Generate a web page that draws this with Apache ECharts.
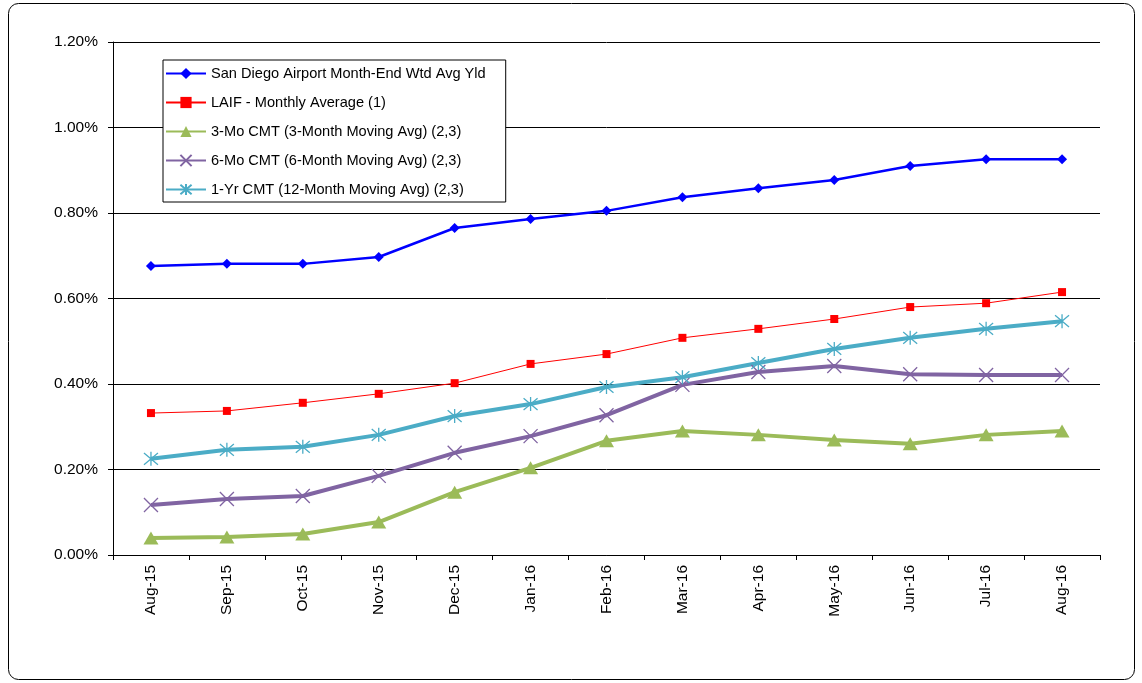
<!DOCTYPE html>
<html><head><meta charset="utf-8">
<script src="https://cdn.jsdelivr.net/npm/echarts@6/dist/echarts.min.js"></script>
<style>html,body{margin:0;padding:0;background:#fff}#c{width:1142px;height:683px}</style>
</head><body><div id="c"></div>
<script>
const categories = ['Aug-15','Sep-15','Oct-15','Nov-15','Dec-15','Jan-16','Feb-16','Mar-16','Apr-16','May-16','Jun-16','Jul-16','Aug-16'];
const sanDiego = [0.676,0.681,0.681,0.697,0.765,0.786,0.805,0.837,0.858,0.877,0.910,0.926,0.926];
const laif = [0.332,0.337,0.356,0.377,0.402,0.447,0.470,0.508,0.529,0.552,0.580,0.589,0.615];
const cmt3 = [0.040,0.042,0.049,0.077,0.147,0.204,0.267,0.290,0.281,0.269,0.260,0.281,0.290];
const cmt6 = [0.117,0.131,0.138,0.185,0.239,0.278,0.327,0.398,0.428,0.442,0.423,0.421,0.421];
const cmt12 = [0.225,0.246,0.253,0.281,0.325,0.353,0.393,0.416,0.449,0.482,0.508,0.529,0.547];
const seriesNames = ['San Diego Airport Month-End Wtd Avg Yld','LAIF - Monthly Average (1)','3-Mo CMT (3-Month Moving Avg) (2,3)','6-Mo CMT (6-Month Moving Avg) (2,3)','1-Yr CMT (12-Month Moving Avg) (2,3)'];

const FONT = 'Liberation Sans, Arial, sans-serif';
const xPath = 'path://M0,0L10,10M10,0L0,10';
const starPath = 'path://M0,0L10,10M10,0L0,10M5,-1L5,11';

const chart = echarts.init(document.getElementById('c'), null, {renderer:'canvas'});
chart.setOption({
  animation:false,
  textStyle:{fontFamily:FONT},
  graphic:[{type:'rect', shape:{x:8.5,y:3.5,width:1126,height:676,r:10}, style:{fill:'none',stroke:'#000',lineWidth:1}, z:-1}],
  grid:{left:113,right:42,top:42,bottom:128},
  legend:{
    orient:'vertical', left:163, top:60,
    backgroundColor:'#fff', borderColor:'#000', borderWidth:1,
    padding:[6,20,5,2], itemGap:14, itemWidth:40, itemHeight:14,
    textStyle:{fontFamily:FONT, fontSize:14.6, color:'#000', padding:[0,0,0,0]},
    data:seriesNames
  },
  xAxis:{
    type:'category', data:categories, boundaryGap:true,
    axisLine:{lineStyle:{color:'#000',width:1}},
    axisTick:{show:true,length:5,lineStyle:{color:'#000'}},
    axisLabel:{rotate:90, color:'#000', fontSize:15.5, fontFamily:FONT, margin:10}
  },
  yAxis:{
    type:'value', min:0, max:1.2, interval:0.2,
    axisLine:{show:true,lineStyle:{color:'#000',width:1}},
    axisTick:{show:true,length:5,lineStyle:{color:'#000'}},
    axisLabel:{color:'#000', fontSize:15.5, fontFamily:FONT, margin:15, formatter:v=>v.toFixed(2)+'%'},
    splitLine:{show:true,lineStyle:{color:'#000',width:1}}
  },
  series:[
    {name:seriesNames[0], type:'line', data:sanDiego, symbol:'diamond', symbolSize:10,
      lineStyle:{color:'#0000FF',width:2.5}, itemStyle:{color:'#0000FF'}, z:5},
    {name:seriesNames[1], type:'line', data:laif, symbol:'rect', symbolSize:8,
      lineStyle:{color:'#FF0000',width:1}, itemStyle:{color:'#FF0000'}, z:4},
    {name:seriesNames[2], type:'line', data:cmt3, symbol:'triangle', symbolSize:[15,13],
      lineStyle:{color:'#9BBB59',width:4}, itemStyle:{color:'#9BBB59'}, z:3},
    {name:seriesNames[3], type:'line', data:cmt6, symbol:xPath, symbolSize:14,
      lineStyle:{color:'#8064A2',width:4}, itemStyle:{color:'rgba(0,0,0,0)',borderColor:'#8064A2',borderWidth:1.3}, z:3},
    {name:seriesNames[4], type:'line', data:cmt12, symbol:starPath, symbolSize:14,
      lineStyle:{color:'#4BACC6',width:4}, itemStyle:{color:'rgba(0,0,0,0)',borderColor:'#4BACC6',borderWidth:1.3}, z:3}
  ]
});
</script></body></html>
